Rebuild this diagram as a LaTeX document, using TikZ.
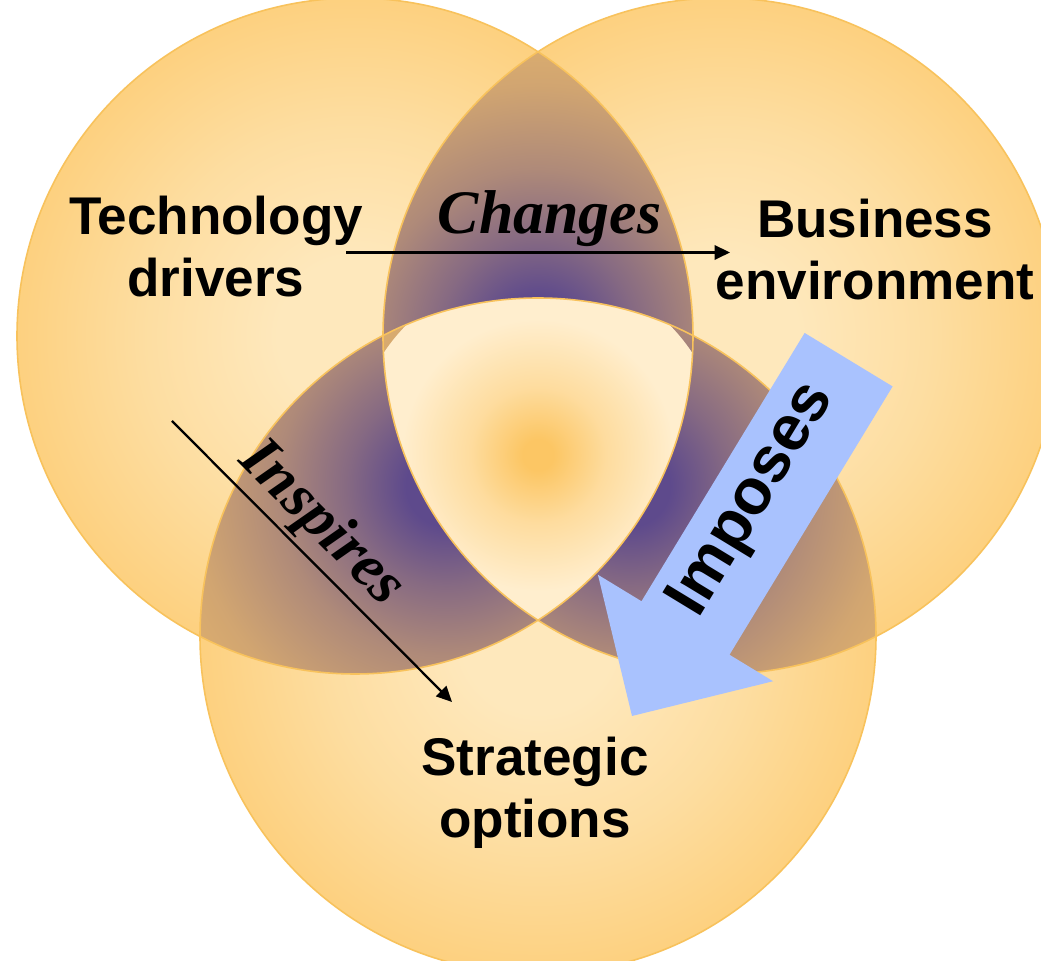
\documentclass[tikz,border=0pt]{standalone}
\usepackage{fontspec}
\setmainfont{Liberation Serif}
\newfontfamily\vennsans{Liberation Sans}
\usetikzlibrary{arrows.meta,calc}

\definecolor{vorange}{RGB}{252,197,98}
\definecolor{vlight}{RGB}{254,232,188}
\colorlet{vlighta}{vlight!70!vorange}
\colorlet{vlightb}{vlight!28!vorange}
\definecolor{vtan}{RGB}{238,188,106}
\definecolor{vpurple}{RGB}{94,74,140}
\colorlet{vmixa}{vpurple!72!vtan}
\colorlet{vmixb}{vpurple!44!vtan}
\colorlet{vmixc}{vpurple!20!vtan}
\colorlet{vmixd}{vpurple!6!vtan}
\definecolor{vcore}{RGB}{252,198,100}
\definecolor{vcream}{RGB}{255,238,206}
\colorlet{vcoremix}{vcore!45!vcream}
\definecolor{vedge}{RGB}{248,194,92}
\definecolor{vblue}{RGB}{169,194,254}

% the path edge lies at 35.36bp of these shadings
\pgfdeclareradialshading{circlefill}{\pgfpointorigin}{color(0bp)=(vlight); color(5.7bp)=(vlight); color(15.6bp)=(vlighta); color(26.2bp)=(vlightb); color(35.4bp)=(vorange); color(50bp)=(vorange)}
\pgfdeclareradialshading{lensfill}{\pgfpointorigin}{color(0bp)=(vpurple); color(3.5bp)=(vpurple); color(8.6bp)=(vmixa); color(14.6bp)=(vmixb); color(22bp)=(vmixc); color(29.5bp)=(vmixd); color(35.4bp)=(vtan); color(50bp)=(vtan)}
\pgfdeclareradialshading{corefill}{\pgfpointorigin}{color(0bp)=(vcore); color(2.1bp)=(vcore); color(9.2bp)=(vcoremix); color(18.4bp)=(vcream); color(50bp)=(vcream)}

\begin{document}
\begin{tikzpicture}[
  venntext/.style={font=\vennsans\bfseries\fontsize{15.1}{17.7}\selectfont,align=center},
  arrowtext/.style={font=\vennsans\bfseries\fontsize{18.3}{20}\selectfont,inner sep=0pt},
  linklabel/.style={font=\itshape\bfseries\fontsize{17.6}{20}\selectfont,inner sep=0pt},
  link/.style={->,line width=0.65pt},
  >={Triangle[length=4.4pt,width=4.1pt]}]
\useasboundingbox (0,0) rectangle (10.41,9.61);
\fill[white] (0,0) rectangle (10.41,9.61);
\coordinate (Lc) at (3.55,6.25);
\coordinate (Rc) at (7.21,6.25);
\coordinate (Bc) at (5.38,3.25);
% circles
\foreach \ctr in {Lc,Rc,Bc}
  \shade[shading=circlefill] (\ctr) circle (3.38);
% overlaps of two
\foreach \pa/\pb/\hl in {Lc/Rc/2.86,Lc/Bc/2.9,Rc/Bc/2.9}{
  \begin{scope}
    \clip (\pa) circle (3.38);
    \clip (\pb) circle (3.38);
    \shade[shading=lensfill] ($(\pa)!.5!(\pb)$) circle (\hl);
  \end{scope}
}
% overlap of all three
\begin{scope}
  \clip (Lc) circle (3.38);
  \clip (Rc) circle (3.38);
  \clip (Bc) circle (3.38);
  \shade[shading=corefill] (5.38,5.06) circle (1.85);
\end{scope}
\foreach \ctr in {Lc,Rc,Bc}
  \draw[vedge,line width=0.45pt] (\ctr) circle (3.38);
% block arrow
\begin{scope}[shift={(6.32,2.45)},rotate=58.7]
  \fill[vblue] (0,0) -- (1.03,1.025) -- (1.03,0.515) -- (4.17,0.515) -- (4.17,-0.515) -- (1.03,-0.515) -- (1.03,-1.025) -- cycle;
  \node[arrowtext,rotate=58.7] (imp) at (2.47,0.09) {Imposes};
\end{scope}
\node[venntext] (tech) at (2.16,7.145) {Technology\\drivers};
\node[venntext] (biz) at (8.75,7.115) {Business\\environment};
\node[venntext] (strat) at (5.35,1.685) {Strategic\\options};
\coordinate (chgA) at (3.46,7.085);
\coordinate (chgB) at (7.30,7.085);
\draw[link] (chgA) -- node[linklabel,pos=.53,above=0.05cm] (chg) {Changes} (chgB);
\coordinate (insA) at (1.72,5.40);
\coordinate (insB) at (4.52,2.59);
\draw[link] (insA) -- node[linklabel,pos=.45,sloped,above=0.035cm] (ins) {Inspires} (insB);
\end{tikzpicture}
\end{document}
